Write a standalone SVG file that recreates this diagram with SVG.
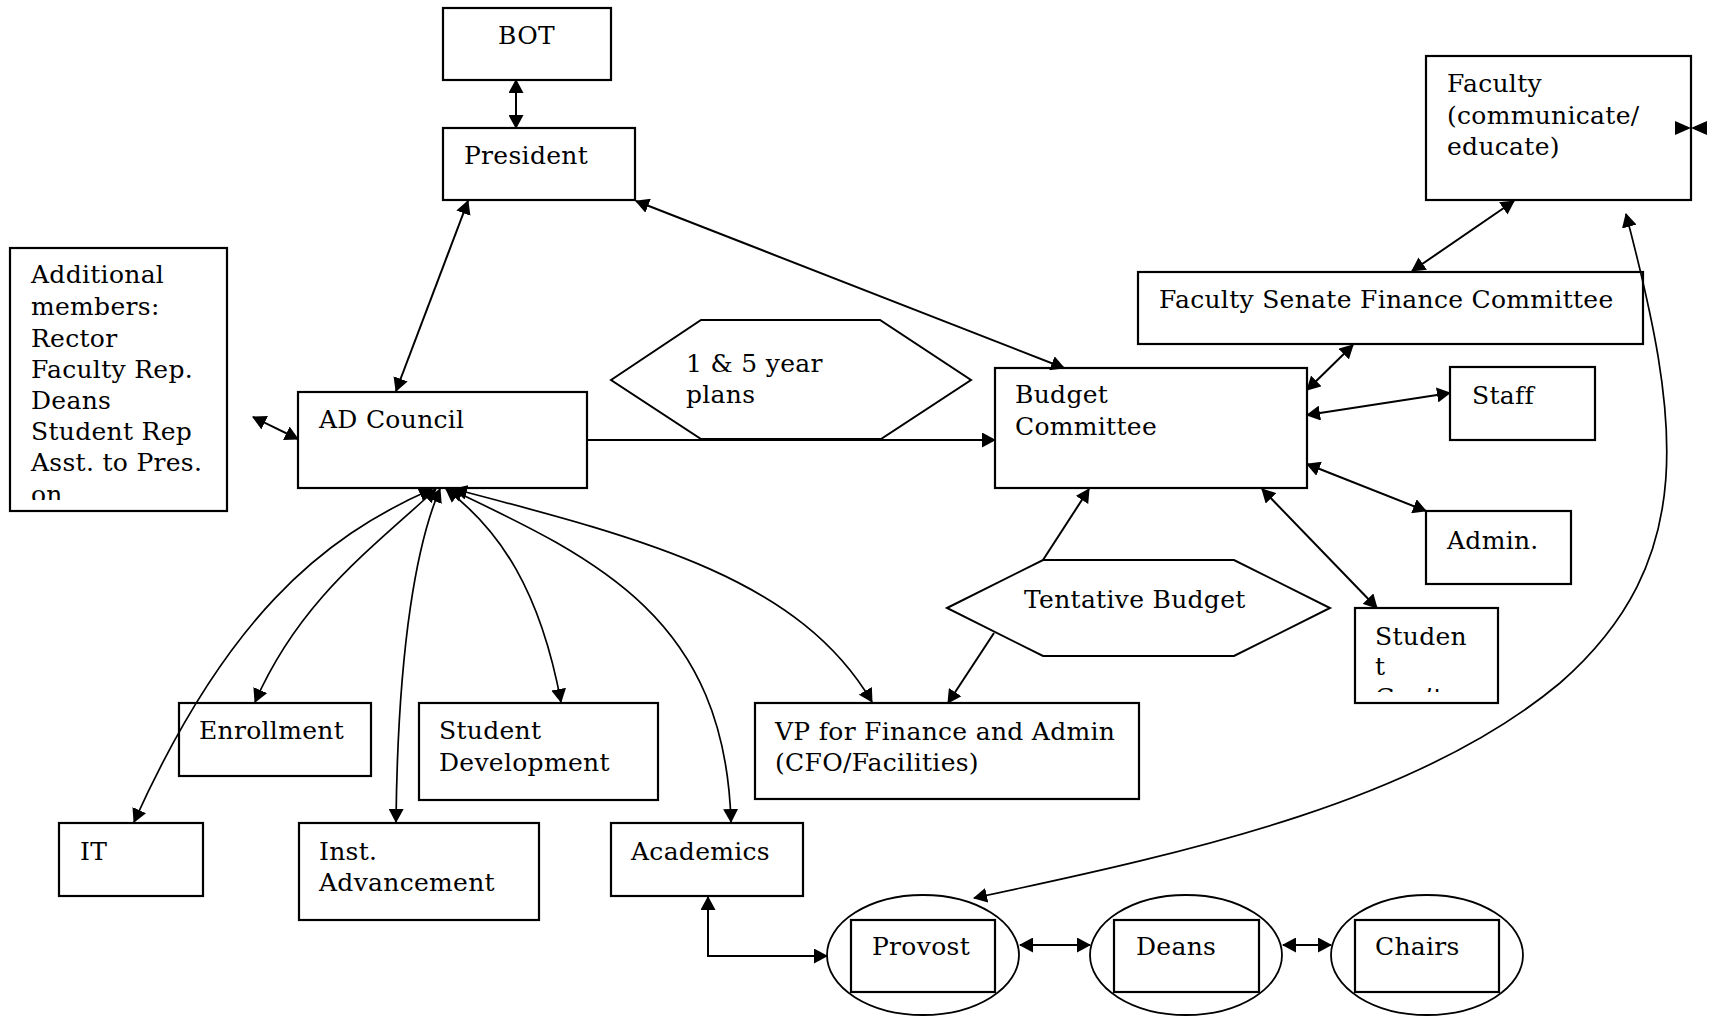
<svg xmlns="http://www.w3.org/2000/svg" width="1720" height="1016" viewBox="0 0 1720 1016">
<style>
.box{fill:#fff;stroke:#000;stroke-width:2.2}
.hex{fill:#fff;stroke:#000;stroke-width:2}
.ell{fill:#fff;stroke:#000;stroke-width:1.8}
.t{font-family:"DejaVu Serif","Liberation Serif",serif;font-size:25px;letter-spacing:0.3px;fill:#000}
.c{fill:none;stroke:#000;stroke-width:2}
.cv{fill:none;stroke:#000;stroke-width:1.7}
.dbl{marker-start:url(#ah);marker-end:url(#ah)}
.sgl{marker-end:url(#ah)}
</style>
<defs>
<marker id="ah" markerUnits="userSpaceOnUse" markerWidth="14" markerHeight="15" refX="13" refY="7.5" orient="auto-start-reverse" viewBox="0 0 14 15">
<path d="M0,0 L14,7.5 L0,15 z" fill="#000"/>
</marker>
<clipPath id="clipAdd"><rect x="10" y="248" width="217" height="252"/></clipPath>
<clipPath id="clipStu"><rect x="1355" y="608" width="143" height="84"/></clipPath>
</defs>
<rect width="1720" height="1016" fill="#fff"/>

<g id="bot"><rect class="box" x="443" y="8" width="168" height="72"/><text class="t" x="498" y="44">BOT</text></g>
<g id="president"><rect class="box" x="443" y="128" width="192" height="72"/><text class="t" x="464" y="164">President</text></g>
<g id="additional"><rect class="box" x="10" y="248" width="217" height="263"/>
<g clip-path="url(#clipAdd)"><text class="t">
<tspan x="31" y="283">Additional</tspan><tspan x="31" y="315">members:</tspan><tspan x="31" y="347">Rector</tspan><tspan x="31" y="378">Faculty Rep.</tspan><tspan x="31" y="409">Deans</tspan><tspan x="31" y="440">Student Rep</tspan><tspan x="31" y="471">Asst. to Pres.</tspan><tspan x="31" y="503">on</tspan></text></g></g>
<g id="adcouncil"><rect class="box" x="298" y="392" width="289" height="96"/><text class="t" x="319" y="428">AD Council</text></g>
<g id="plans"><polygon class="hex" points="611,380 701,320 880,320 971,380 881,439 701,439"/><text class="t"><tspan x="686" y="372">1 &amp; 5 year</tspan><tspan x="686" y="403">plans</tspan></text></g>
<g id="budget"><rect class="box" x="995" y="368" width="312" height="120"/><text class="t"><tspan x="1015" y="403">Budget</tspan><tspan x="1015" y="435">Committee</tspan></text></g>
<g id="faculty"><rect class="box" x="1426" y="56" width="265" height="144"/><text class="t"><tspan x="1447" y="92">Faculty</tspan><tspan x="1447" y="124">(communicate/</tspan><tspan x="1447" y="155">educate)</tspan></text></g>
<g id="fsfc"><rect class="box" x="1138" y="272" width="505" height="72"/><text class="t" x="1159" y="308">Faculty Senate Finance Committee</text></g>
<g id="staff"><rect class="box" x="1450" y="367" width="145" height="73"/><text class="t" x="1472" y="404">Staff</text></g>
<g id="admin"><rect class="box" x="1426" y="511" width="145" height="73"/><text class="t" x="1447" y="549">Admin.</text></g>
<g id="student"><rect class="box" x="1355" y="608" width="143" height="95"/>
<g clip-path="url(#clipStu)"><text class="t"><tspan x="1375" y="645">Studen</tspan><tspan x="1375" y="675">t</tspan><tspan x="1375" y="706">Gov’t</tspan></text></g></g>
<g id="tentative"><polygon class="hex" points="947,608 1043,560 1234,560 1330,608 1234,656 1043,656"/><text class="t" x="1024" y="608">Tentative Budget</text></g>
<g id="enrollment"><rect class="box" x="179" y="703" width="192" height="73"/><text class="t" x="199" y="739">Enrollment</text></g>
<g id="studentdev"><rect class="box" x="419" y="703" width="239" height="97"/><text class="t"><tspan x="439" y="739">Student</tspan><tspan x="439" y="771">Development</tspan></text></g>
<g id="vp"><rect class="box" x="755" y="703" width="384" height="96"/><text class="t"><tspan x="775" y="740">VP for Finance and Admin</tspan><tspan x="775" y="771">(CFO/Facilities)</tspan></text></g>
<g id="it"><rect class="box" x="59" y="823" width="144" height="73"/><text class="t" x="80" y="860">IT</text></g>
<g id="instadv"><rect class="box" x="299" y="823" width="240" height="97"/><text class="t"><tspan x="319" y="860">Inst.</tspan><tspan x="319" y="891">Advancement</tspan></text></g>
<g id="academics"><rect class="box" x="611" y="823" width="192" height="73"/><text class="t" x="631" y="860">Academics</text></g>
<g id="provost"><ellipse class="ell" cx="923" cy="955" rx="96" ry="60"/><rect class="box" x="851" y="920" width="144" height="72"/><text class="t" x="872" y="955">Provost</text></g>
<g id="deans"><ellipse class="ell" cx="1186" cy="955" rx="96" ry="60"/><rect class="box" x="1114" y="920" width="145" height="72"/><text class="t" x="1136" y="955">Deans</text></g>
<g id="chairs"><ellipse class="ell" cx="1427" cy="955" rx="96" ry="60"/><rect class="box" x="1355" y="920" width="144" height="72"/><text class="t" x="1375" y="955">Chairs</text></g>

<g id="connectors">
<path class="c dbl" d="M516,80 L516,128"/>
<path class="c dbl" d="M468,201 L396,391"/>
<path class="c dbl" d="M636,201 L1064,368"/>
<path class="c dbl" d="M253,417 L298,439"/>
<path class="c sgl" d="M587,440 L995,440"/>
<path class="c dbl" d="M1514,201 L1412,271"/>
<path class="c dbl" d="M1353,345 L1307,390"/>
<path class="c dbl" d="M1307,415 L1450,393"/>
<path class="c dbl" d="M1307,464 L1426,511"/>
<path class="c dbl" d="M1262,489 L1377,608"/>
<path class="c sgl" d="M1043,560 L1089,489"/>
<path class="c sgl" d="M994,633 L948,703"/>
<path class="cv dbl" d="M432,489 C320,538 225,620 134,822"/>
<path class="cv dbl" d="M436,489 C370,550 300,600 255,702"/>
<path class="cv dbl" d="M440,489 C418,540 398,640 396,822"/>
<path class="cv dbl" d="M446,489 C500,530 540,590 561,702"/>
<path class="cv dbl" d="M450,489 C600,560 725,620 731,822"/>
<path class="cv dbl" d="M454,489 C650,540 800,580 872,702"/>
<path class="c dbl" d="M708,897 L708,956 L827,956"/>
<path class="c dbl" d="M1020,945 L1090,945"/>
<path class="c dbl" d="M1283,945 L1331,945"/>
<path class="cv dbl" d="M1626,214 C1680,420 1700,560 1560,683 C1420,800 1200,850 974,898"/>
<polygon points="1675,121 1691,128 1675,135" fill="#000"/>
<polygon points="1707,121 1691,128 1707,135" fill="#000"/>
</g>
</svg>
